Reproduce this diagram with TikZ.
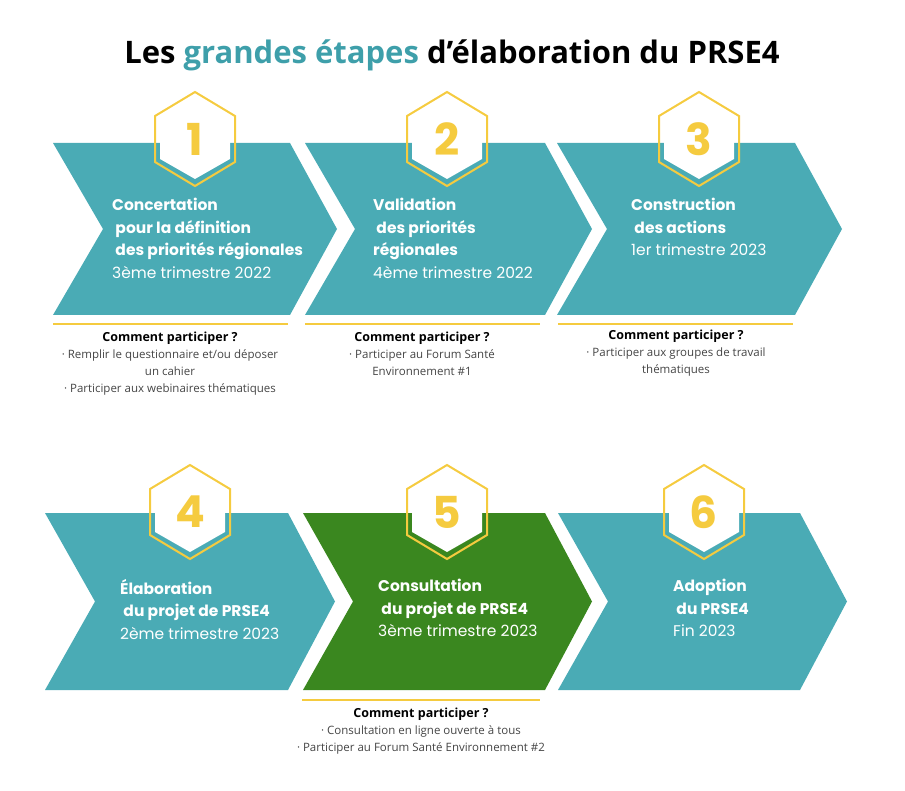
\documentclass[tikz,border=0pt]{standalone}
\usepackage{fontspec}
\setmainfont{Open Sans}
\newfontfamily\pop{Poppins}
\definecolor{teal}{HTML}{4AABB5}
\definecolor{grn}{HTML}{3A871F}
\definecolor{ylw}{HTML}{F5CB3F}
\definecolor{tealt}{HTML}{3E9FAA}
\definecolor{gry}{HTML}{444444}
\begin{document}
\begin{tikzpicture}[x=1pt,y=-1pt,
  ctext/.style={anchor=north west,align=left,text=white,font=\pop\fontsize{15.5}{22.5}\selectfont,inner sep=0},
  ptext/.style={align=center,text=gry,font=\fontsize{11.5}{17}\selectfont,inner sep=0,anchor=north},
  ylline/.style={draw=ylw,line width=1.8pt}]
\useasboundingbox (0,0) rectangle (905,791);
\node (title) at (452,55) {\fontsize{31}{36}\selectfont\bfseries Les \textcolor{tealt}{grandes étapes} d’élaboration du PRSE4};
\newcommand\chev[6]{% x0 ytop ybot color name width
  \fill[#4] (#1,#2) -- ({#1+#6},#2) -- ({#1+#6+47},{(#2+#3)/2}) -- ({#1+#6},#3) -- (#1,#3) -- ({#1+50},{(#2+#3)/2}) -- cycle;
}
\newcommand\hexa[4]{% cx cy name num
  \fill[white] (#1,{#2-40}) -- ({#1+35},{#2-20}) -- ({#1+35},{#2+20}) -- (#1,{#2+40}) -- ({#1-35},{#2+20}) -- ({#1-35},{#2-20}) -- cycle;
  \draw[ylw,line width=2pt] (#1,{#2-47}) -- ({#1+40},{#2-23}) -- ({#1+40},{#2+23}) -- (#1,{#2+47}) -- ({#1-40},{#2+23}) -- ({#1-40},{#2-23}) -- cycle;
  \node[text=ylw,font=\pop\bfseries\fontsize{44}{44}\selectfont] (#3) at (#1,#2) {#4};
}
\chev{53}{143}{315}{teal}{a}{237}
\chev{305}{143}{315}{teal}{b}{240}
\chev{557}{143}{315}{teal}{c}{238}
\chev{45}{513}{690}{teal}{d}{243}
\chev{303}{513}{690}{grn}{e}{242}
\chev{558}{513}{690}{teal}{f}{242}
\hexa{195}{139}{h1}{1}
\hexa{447}{139}{h2}{2}
\hexa{699}{139}{h3}{3}
\hexa{190}{512}{h4}{4}
\hexa{447}{512}{h5}{5}
\hexa{704}{512}{h6}{6}
\node[ctext] (t1) at (112,198) {\textbf{Concertation}\\ \textbf{ pour la définition}\\ \textbf{ des priorités régionales}\\3ème trimestre 2022};
\node[ctext] (t2) at (373,198) {\textbf{Validation}\\ \textbf{ des priorités}\\ \textbf{régionales}\\4ème trimestre 2022};
\node[ctext] (t3) at (631,198) {\textbf{Construction}\\ \textbf{ des actions}\\ 1er trimestre 2023};
\node[ctext] (t4) at (120,579) {\textbf{Élaboration}\\ \textbf{ du projet de PRSE4}\\ 2ème trimestre 2023};
\node[ctext] (t5) at (378,579) {\textbf{Consultation}\\ \textbf{ du projet de PRSE4}\\ 3ème trimestre 2023};
\node[ctext] (t6) at (673,579) {\textbf{Adoption}\\ \textbf{ du PRSE4}\\ Fin 2023};
\draw[ylline] (53,324) -- (288,324);
\draw[ylline] (305,324) -- (540,324);
\draw[ylline] (558,324) -- (793,324);
\draw[ylline] (302,700) -- (540,700);
\node[ptext] (p1) at (170,332) {{\color{black}\bfseries\fontsize{12.5}{17}\selectfont Comment participer ?}\\ · Remplir le questionnaire et/ou déposer\\ un cahier\\ · Participer aux webinaires thématiques};
\node[ptext] (p2) at (422,332) {{\color{black}\bfseries\fontsize{12.5}{17}\selectfont Comment participer ?}\\ · Participer au Forum Santé\\ Environnement \#1};
\node[ptext] (p3) at (676,330) {{\color{black}\bfseries\fontsize{12.5}{17}\selectfont Comment participer ?}\\ · Participer aux groupes de travail\\ thématiques};
\node[ptext] (p5) at (421,708) {{\color{black}\bfseries\fontsize{12.5}{17}\selectfont Comment participer ?}\\ · Consultation en ligne ouverte à tous\\ · Participer au Forum Santé Environnement \#2};
\end{tikzpicture}
\end{document}
